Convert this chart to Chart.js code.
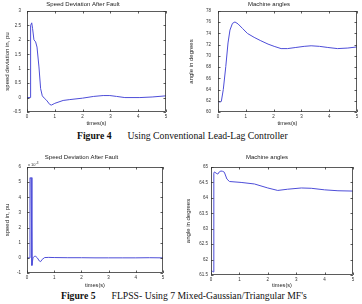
<!DOCTYPE html>
<html><head><meta charset="utf-8">
<script src="https://cdn.jsdelivr.net/npm/chart.js@4/dist/chart.umd.min.js"></script>
<style>
html,body{margin:0;padding:0;background:#fff;width:362px;height:304px;overflow:hidden}
body{position:relative}
canvas{position:absolute}
.cap{position:absolute;font-family:"Liberation Serif","Times New Roman",serif;font-size:9.7px;line-height:12px;color:#111;white-space:nowrap}
.cap b{margin-right:16px}
</style></head><body>
<canvas id="c1" width="181" height="128" style="left:0;top:0"></canvas>
<canvas id="c2" width="181" height="128" style="left:181px;top:0"></canvas>
<div class="cap" style="left:77px;top:130px"><b>Figure 4</b>Using Conventional Lead-Lag Controller</div>
<canvas id="c3" width="181" height="140" style="left:0;top:150px"></canvas>
<canvas id="c4" width="181" height="140" style="left:181px;top:150px"></canvas>
<div class="cap" style="left:61px;top:290px"><b>Figure 5</b>FLPSS- Using 7 Mixed-Gaussian/Triangular MF's</div>
<script>
// ---- data ----
const timeTicks = [0, 1, 2, 3, 4, 5];

const leadLagSpeedT = [0, 0.12, 0.13, 0.17, 0.20, 0.25, 0.31, 0.36, 0.43, 0.49, 0.55, 0.62, 0.70, 0.82, 0.88, 1.0, 1.3, 1.54, 2.0, 2.4, 2.74, 2.98, 3.22, 3.52, 4.06, 4.5, 5.0];
const leadLagSpeed  = [0, 0, 2.5, 2.59, 2.4, 2.0, 1.93, 1.75, 1.06, 0.31, 0.06, -0.02, -0.09, -0.24, -0.26, -0.2, -0.1, -0.07, -0.02, 0.04, 0.07, 0.07, 0.04, 0.0, 0.0, 0.02, 0.06];
const leadLagSpeedTicks = [-0.5, 0, 0.5, 1, 1.5, 2, 2.5, 3];

const leadLagAngleT = [0, 0.05, 0.1, 0.12, 0.19, 0.28, 0.36, 0.43, 0.52, 0.61, 0.72, 0.88, 1.06, 1.3, 1.54, 1.8, 2.02, 2.27, 2.5, 2.8, 3.1, 3.35, 3.65, 3.95, 4.3, 4.67, 5.0];
const leadLagAngle  = [61.9, 61.8, 61.8, 61.9, 64.0, 68.1, 72.3, 74.6, 75.8, 76.05, 75.7, 74.9, 74.0, 73.3, 72.7, 72.1, 71.7, 71.3, 71.3, 71.5, 71.7, 71.8, 71.7, 71.5, 71.3, 71.4, 71.6];
const leadLagAngleTicks = [60, 62, 64, 66, 68, 70, 72, 74, 76, 78];

const flpssSpeedT = [0, 0.10, 0.11, 0.14, 0.15, 0.18, 0.22, 0.27, 0.32, 0.38, 0.45, 0.50, 0.56, 0.65, 0.8, 1.0, 1.5, 2.0, 2.5, 3.0, 3.5, 4.0, 4.5, 5.0];
const flpssSpeed  = [0, 0, 5.3, 5.25, 5.3, -0.5, 0.0, 0.1, 0.1, 0.0, -0.2, -0.25, -0.1, 0.02, 0.03, 0.02, 0.01, 0.01, 0.0, 0.0, 0.0, 0.0, 0.01, 0.0];
const flpssSpeedTicks = [-1, 0, 1, 2, 3, 4, 5, 6];

const flpssAngleT = [0, 0.05, 0.08, 0.10, 0.12, 0.18, 0.24, 0.29, 0.35, 0.41, 0.47, 0.56, 0.65, 1.06, 1.53, 2.0, 2.35, 2.7, 3.18, 3.53, 4.0, 4.47, 5.0];
const flpssAngle  = [61.64, 61.62, 61.6, 64.8, 64.84, 64.8, 64.77, 64.84, 64.87, 64.86, 64.83, 64.61, 64.53, 64.5, 64.45, 64.32, 64.24, 64.28, 64.32, 64.31, 64.26, 64.23, 64.22];
const flpssAngleTicks = [61.5, 62, 62.5, 63, 63.5, 64, 64.5, 65];

// ---- style ----
const LINE = '#4d4dd8';
const AX = '#333';
const SANS = '"Liberation Sans", Arial, Helvetica, sans-serif';

const boxPlugin = {
  id: 'box',
  afterDraw(chart, args, o) {
    const {ctx, chartArea: a, scales: {x, y}} = chart;
    ctx.save();
    ctx.strokeStyle = AX; ctx.lineWidth = 0.8;
    ctx.strokeRect(a.left + 0.5, a.top + 0.5, a.right - a.left - 1, a.bottom - a.top - 1);
    ctx.beginPath();
    x.ticks.forEach(t => {
      const px = Math.round(x.getPixelForValue(t.value)) + 0.5;
      ctx.moveTo(px, a.bottom); ctx.lineTo(px, a.bottom - 2.5);
      ctx.moveTo(px, a.top); ctx.lineTo(px, a.top + 2.5);
    });
    y.ticks.forEach(t => {
      const py = Math.round(y.getPixelForValue(t.value)) + 0.5;
      ctx.moveTo(a.left, py); ctx.lineTo(a.left + 2.5, py);
      ctx.moveTo(a.right, py); ctx.lineTo(a.right - 2.5, py);
    });
    ctx.stroke();
    if (o && o.exp) {
      ctx.fillStyle = AX;
      ctx.textBaseline = 'alphabetic';
      ctx.font = '4px ' + SANS;
      ctx.fillText('x 10', a.left + 1, a.top - 1.5);
      const w = ctx.measureText('x 10').width;
      ctx.font = '3px ' + SANS;
      ctx.fillText(o.exp, a.left + 1 + w + 0.3, a.top - 3.5);
    }
    ctx.restore();
  }
};

function makeChart(id, t, v, yTicks, cfg) {
  return new Chart(document.getElementById(id), {
    type: 'line',
    data: { datasets: [{ data: t.map((tx, i) => ({ x: tx, y: v[i] })), borderColor: LINE, borderWidth: 1, pointRadius: 0, tension: 0, fill: false }] },
    options: {
      responsive: false, animation: false, events: [],
      layout: { padding: { left: 0, right: cfg.padR, top: 0, bottom: 0 } },
      plugins: {
        legend: { display: false }, tooltip: { enabled: false },
        title: { display: true, text: cfg.title, color: '#222', font: { family: SANS, size: 6, weight: 'normal' }, padding: { top: cfg.tTop, bottom: cfg.tBot } },
        box: { exp: cfg.exp }
      },
      scales: {
        x: {
          type: 'linear', min: 0, max: 5,
          afterBuildTicks: s => { s.ticks = timeTicks.map(val => ({ value: val })); },
          grid: { display: false, drawTicks: false }, border: { display: false },
          ticks: { color: AX, font: { family: SANS, size: 4.5 }, padding: cfg.xPad, maxRotation: 0, autoSkip: false },
          title: { display: true, text: 'times(s)', color: '#222', font: { family: SANS, size: 5.6 }, padding: { top: 0, bottom: cfg.xtBot } },
          afterFit: s => { s.height = cfg.xH; }
        },
        y: {
          type: 'linear', min: yTicks[0], max: yTicks[yTicks.length - 1],
          afterBuildTicks: s => { s.ticks = yTicks.map(val => ({ value: val })); },
          grid: { display: false, drawTicks: false }, border: { display: false },
          ticks: { color: AX, font: { family: SANS, size: 4.5 }, padding: cfg.yPad, autoSkip: false, callback: val => String(val) },
          title: { display: true, text: cfg.yTitle, color: '#222', font: { family: SANS, size: 6 }, padding: { top: cfg.ytTop, bottom: 0 } },
          afterFit: s => { s.width = cfg.yW; }
        }
      }
    },
    plugins: [boxPlugin]
  });
}

makeChart('c1', leadLagSpeedT, leadLagSpeed, leadLagSpeedTicks,
  { title: 'Speed Deviation After Fault', yTitle: 'speed deviation in, pu', padR: 15, yW: 27, xH: 16, tTop: 1, tBot: 2.8, xPad: 2, xtBot: 1.6, yPad: 6, ytTop: 4.2 });
makeChart('c2', leadLagAngleT, leadLagAngle, leadLagAngleTicks,
  { title: 'Machine angles', yTitle: 'angle in degrees', padR: 5, yW: 37, xH: 16, tTop: 1, tBot: 2.8, xPad: 2, xtBot: 1.6, yPad: 7, ytTop: 6.4 });
makeChart('c3', flpssSpeedT, flpssSpeed, flpssSpeedTicks,
  { title: 'Speed Deviation After Fault', yTitle: 'speed in, pu', padR: 18, yW: 27, xH: 17, tTop: 3.4, tBot: 6.4, xPad: 2.5, xtBot: 0.7, yPad: 6, ytTop: 4.2, exp: '-3' });
makeChart('c4', flpssAngleT, flpssAngle, flpssAngleTicks,
  { title: 'Machine angles', yTitle: 'angle in degrees', padR: 9, yW: 30, xH: 15, tTop: 3.4, tBot: 6.4, xPad: 2.5, xtBot: 0.7, yPad: 3, ytTop: 4.2 });
</script>
</body></html>
